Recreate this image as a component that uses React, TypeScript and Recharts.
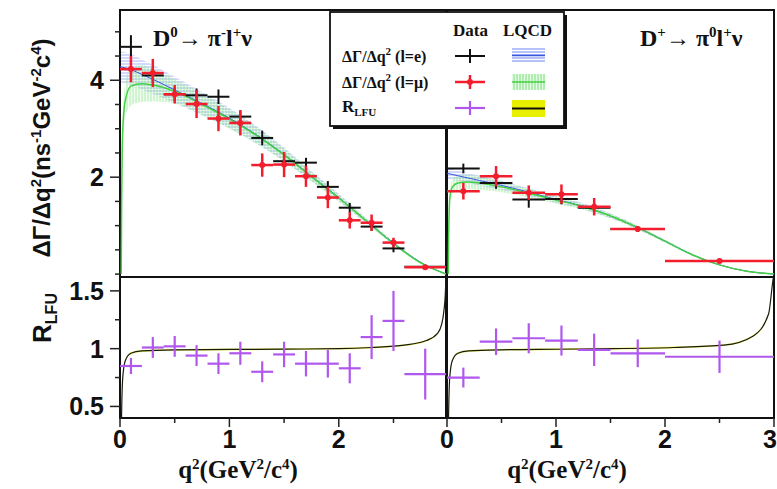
import React from 'react';
import { ComposedChart, XAxis, YAxis, Scatter, ErrorBar, Area, Line, ReferenceArea } from 'recharts';

// ---- D0 -> pi- l+ nu : measured bins ----
const d0Q = [0.1, 0.3, 0.5, 0.7, 0.9, 1.1, 1.3, 1.5, 1.7, 1.9, 2.1, 2.3, 2.5, 2.79];
const d0QHalf = [0.1, 0.1, 0.1, 0.1, 0.1, 0.1, 0.1, 0.1, 0.1, 0.1, 0.1, 0.1, 0.1, 0.19];
const d0RateE = [4.69, 4.1, 3.71, 3.69, 3.66, 3.25, 2.81, 2.33, 2.3, 1.8, 1.37, 0.98, 0.53, 0.15];
const d0RateEErr = [0.24, 0.15, 0.14, 0.14, 0.15, 0.13, 0.15, 0.1, 0.1, 0.12, 0.1, 0.09, 0.08, 0.03];
const d0RateMu = [4.23, 4.15, 3.71, 3.51, 3.21, 3.12, 2.25, 2.26, 2.02, 1.58, 1.11, 1.06, 0.65, 0.14];
const d0RateMuErr = [0.27, 0.29, 0.19, 0.29, 0.26, 0.26, 0.24, 0.26, 0.22, 0.22, 0.17, 0.17, 0.1, 0.03];
const d0R = [0.85, 1.01, 1.02, 0.94, 0.87, 0.96, 0.8, 0.95, 0.87, 0.87, 0.83, 1.1, 1.24, 0.78];
const d0RErr = [0.07, 0.09, 0.09, 0.09, 0.09, 0.1, 0.09, 0.11, 0.11, 0.12, 0.13, 0.19, 0.26, 0.22];

// ---- D+ -> pi0 l+ nu : measured bins ----
const dpQ = [0.15, 0.45, 0.75, 1.05, 1.35, 1.75, 2.5];
const dpQHalf = [0.15, 0.15, 0.15, 0.15, 0.15, 0.25, 0.5];
const dpRateE = [2.18, 1.88, 1.54, 1.55, 1.37, 0.93, 0.27];
const dpRateEErr = [0.1, 0.12, 0.17, 0.11, 0.1, 0.06, 0.03];
const dpRateMu = [1.71, 2.02, 1.68, 1.65, 1.39, 0.93, 0.27];
const dpRateMuErr = [0.17, 0.21, 0.15, 0.2, 0.18, 0.05, 0.03];
const dpR = [0.75, 1.06, 1.09, 1.07, 0.99, 0.96, 0.93];
const dpRErr = [0.086, 0.115, 0.13, 0.13, 0.14, 0.12, 0.14];

// ---- LQCD predictions ----
const d0LqE_q = [0, 0.1, 0.2, 0.3, 0.5, 0.75, 1.0, 1.25, 1.5, 1.75, 2.0, 2.25, 2.5, 2.75, 2.98];
const d0LqE = [4.28, 4.22, 4.12, 4.02, 3.8, 3.52, 3.22, 2.87, 2.47, 2.02, 1.58, 1.1, 0.64, 0.24, 0];
const d0LqE_h = [0.32, 0.32, 0.31, 0.3, 0.27, 0.24, 0.21, 0.18, 0.14, 0.1, 0.08, 0.05, 0.03, 0.02, 0];
const d0LqMu_q = [0.0112, 0.015, 0.02, 0.03, 0.05, 0.1, 0.2, 0.3, 0.5, 0.75, 1.0, 1.25, 1.5, 1.75, 2.0, 2.25, 2.5, 2.75, 2.98];
const d0LqMu = [0, 1.5, 2.5, 3.2, 3.6, 3.88, 3.93, 3.9, 3.77, 3.5, 3.2, 2.86, 2.46, 2.01, 1.57, 1.1, 0.63, 0.23, 0];
const d0LqMu_h = [0, 0.05, 0.15, 0.25, 0.35, 0.4, 0.38, 0.34, 0.25, 0.22, 0.2, 0.17, 0.13, 0.1, 0.07, 0.05, 0.03, 0.02, 0];
const d0LqR_q = [0.0112, 0.013, 0.016, 0.02, 0.03, 0.05, 0.1, 0.2, 0.5, 1.0, 1.5, 2.0, 2.3, 2.6, 2.8, 2.9, 2.94, 2.96, 2.975, 2.98];
const d0LqR = [0, 0.3, 0.5, 0.65, 0.8, 0.9, 0.96, 0.98, 0.99, 0.993, 0.996, 1.0, 1.01, 1.03, 1.07, 1.13, 1.21, 1.32, 1.5, 1.65];

const dpLqE_q = [0, 0.1, 0.2, 0.3, 0.5, 0.75, 1.0, 1.25, 1.5, 1.75, 2.0, 2.25, 2.5, 2.75, 3.0];
const dpLqE = [2.08, 2.03, 1.98, 1.93, 1.83, 1.69, 1.54, 1.4, 1.2, 0.96, 0.68, 0.4, 0.19, 0.06, 0];
const dpLqE_h = [0.12, 0.11, 0.1, 0.1, 0.09, 0.08, 0.07, 0.06, 0.05, 0.04, 0.03, 0.02, 0.01, 0.01, 0];
const dpLqMu_q = [0.0112, 0.015, 0.02, 0.03, 0.05, 0.1, 0.2, 0.3, 0.5, 0.75, 1.0, 1.25, 1.5, 1.75, 2.0, 2.25, 2.5, 2.75, 3.0];
const dpLqMu = [0, 0.8, 1.3, 1.65, 1.8, 1.88, 1.9, 1.88, 1.8, 1.67, 1.53, 1.39, 1.2, 0.96, 0.68, 0.4, 0.19, 0.06, 0];
const dpLqMu_h = [0, 0.04, 0.08, 0.12, 0.15, 0.16, 0.15, 0.14, 0.11, 0.09, 0.08, 0.06, 0.05, 0.04, 0.03, 0.02, 0.01, 0.01, 0];
const dpLqR_q = [0.0112, 0.013, 0.016, 0.02, 0.03, 0.05, 0.1, 0.2, 0.5, 1.0, 1.5, 2.08, 2.54, 2.81, 2.95, 2.99, 3.0];
const dpLqR = [0, 0.3, 0.5, 0.65, 0.8, 0.9, 0.96, 0.98, 0.99, 0.995, 1.0, 1.01, 1.03, 1.11, 1.3, 1.59, 1.65];

// ---- axes ----
const rateTicks = [0, 0.5, 1, 1.5, 2, 2.5, 3, 3.5, 4, 4.5, 5];
const rateLabels = [2, 4];
const rTicks = [0.5, 0.75, 1, 1.25, 1.5];
const rLabels = [0.5, 1, 1.5];
const qTicksLeft = [0, 0.5, 1, 1.5, 2, 2.5];
const qTicksRight = [0, 0.5, 1, 1.5, 2, 2.5, 3];
const qLabels = [0, 1, 2, 3];

const RED = '#f21d2d';
const PURPLE = '#b057ee';
const SANS = '"Liberation Sans", Arial, sans-serif';
const SERIF = '"Liberation Serif", "Times New Roman", serif';

const pts = (q: number[], qh: number[], v: number[], e: number[]) =>
  q.map((x, i) => ({ q: x, y: v[i], xe: qh[i], ye: e[i] }));
const band = (q: number[], c: number[], h: number[]) =>
  q.map((x, i) => ({ q: x, c: c[i], band: [c[i] - h[i], c[i] + h[i]] }));
const curve = (q: number[], c: number[]) =>
  q.map((x, i) => ({ q: x, c: c[i], band: [c[i] - 0.008, c[i] + 0.008] }));

// parts: plain string, or ['^', s] superscript, or ['_', s] subscript
const rich = (parts: any[], small: number, shift: number) => {
  let cur = 0;
  return parts.map((p, i) => {
    let target = 0;
    let text = p;
    let size: number | undefined;
    if (Array.isArray(p)) {
      target = p[0] === '^' ? -shift : shift;
      text = p[1];
      size = small;
    }
    const dy = target - cur;
    cur = target;
    return (
      <tspan key={i} dy={dy} fontSize={size}>
        {text}
      </tspan>
    );
  });
};

const hatchDefs = (id: string) => (
  <defs>
    <pattern id={`${id}-blue`} patternUnits="userSpaceOnUse" width={6} height={3}>
      <line x1={0} x2={6} y1={1} y2={1} stroke="#5a74ee" strokeWidth={0.9} />
    </pattern>
    <pattern id={`${id}-green`} patternUnits="userSpaceOnUse" width={3} height={6}>
      <rect width={3} height={6} fill="rgba(190,245,190,0.35)" />
      <line x1={1} x2={1} y1={0} y2={6} stroke="#6ada6a" strokeWidth={0.9} />
    </pattern>
  </defs>
);

const yTick = (labels: number[]) => (props: any) => {
  const { x, y, payload } = props;
  const major = labels.includes(payload.value);
  const len = major ? 10 : 5;
  return (
    <g>
      <line x1={x} x2={x - len} y1={y} y2={y} stroke="#222" strokeWidth={1.5} />
      {major && (
        <text x={x - len - 6} y={y} dy="0.36em" textAnchor="end" fontSize={25} fontWeight="bold" fontFamily={SANS} fill="#111">
          {String(payload.value)}
        </text>
      )}
    </g>
  );
};

const xTick = (labels: number[], last: number) => (props: any) => {
  const { x, y, payload } = props;
  const major = labels.includes(payload.value);
  const len = major ? 9 : 5;
  // the label at the very right edge of the figure is kept inside the frame
  const atEdge = payload.value === last && last === 3;
  return (
    <g>
      <line x1={x} x2={x} y1={y} y2={y + len} stroke="#222" strokeWidth={1.5} />
      {major && (
        <text
          x={atEdge ? x + 3 : x}
          y={y + 30}
          textAnchor={atEdge ? 'end' : 'middle'}
          fontSize={25}
          fontWeight="bold"
          fontFamily={SANS}
          fill="#111"
        >
          {String(payload.value)}
        </text>
      )}
    </g>
  );
};

const noMark = () => <g />;
const redDot = (p: any) => <circle cx={p.cx} cy={p.cy} r={3} fill={RED} />;

const abs: React.CSSProperties = { position: 'absolute', left: 0, top: 0 };

const RatePanel = ({ id, left, width, qMax, eCurve, muCurve, ePts, muPts, showY }: any) => (
  <div style={abs}>
    <ComposedChart width={width} height={278} margin={{ top: 10, right: width === 777 ? 3 : 1, bottom: 1, left }}>
      {hatchDefs(id)}
      <XAxis type="number" dataKey="q" domain={[0, qMax]} hide allowDataOverflow />
      <YAxis
        type="number"
        domain={[-0.06, 5.45]}
        ticks={rateTicks}
        interval={0}
        hide={!showY}
        width={120}
        tick={yTick(rateLabels)}
        tickSize={0}
        tickMargin={0}
        axisLine={false}
        tickLine={false}
        allowDataOverflow
      />
      <Area data={eCurve} dataKey="band" type="monotone" fill={`url(#${id}-blue)`} stroke="none" isAnimationActive={false} />
      <Line data={eCurve} dataKey="c" type="monotone" stroke="#3a55dd" strokeWidth={1} dot={false} isAnimationActive={false} />
      <Area data={muCurve} dataKey="band" type="monotone" fill={`url(#${id}-green)`} stroke="none" isAnimationActive={false} />
      <Line data={muCurve} dataKey="c" type="monotone" stroke="#45cf45" strokeWidth={1.5} dot={false} isAnimationActive={false} />
      <Scatter data={ePts} dataKey="y" shape={noMark} isAnimationActive={false}>
        <ErrorBar dataKey="xe" direction="x" width={0} stroke="#111" strokeWidth={2} isAnimationActive={false} />
        <ErrorBar dataKey="ye" direction="y" width={0} stroke="#111" strokeWidth={2} isAnimationActive={false} />
      </Scatter>
      <Scatter data={muPts} dataKey="y" shape={redDot} isAnimationActive={false}>
        <ErrorBar dataKey="xe" direction="x" width={0} stroke={RED} strokeWidth={2.5} isAnimationActive={false} />
        <ErrorBar dataKey="ye" direction="y" width={0} stroke={RED} strokeWidth={2.5} isAnimationActive={false} />
      </Scatter>
      <ReferenceArea x1={0} x2={qMax} y1={-0.06} y2={5.45} fill="none" stroke="#111" strokeWidth={2} ifOverflow="visible" />
    </ComposedChart>
  </div>
);

const RatioPanel = ({ left, width, qMax, qTicks, rCurve, rPts, showY }: any) => (
  <div style={abs}>
    <ComposedChart width={width} height={489} margin={{ top: 277, right: width === 777 ? 3 : 1, bottom: 0, left }}>
      <XAxis
        type="number"
        dataKey="q"
        domain={[0, qMax]}
        ticks={qTicks}
        interval={0}
        height={71}
        tick={xTick(qLabels, qTicks[qTicks.length - 1])}
        tickSize={0}
        tickMargin={0}
        axisLine={false}
        tickLine={false}
        allowDataOverflow
      />
      <YAxis
        type="number"
        domain={[0.4, 1.62]}
        ticks={rTicks}
        interval={0}
        hide={!showY}
        width={120}
        tick={yTick(rLabels)}
        tickSize={0}
        tickMargin={0}
        axisLine={false}
        tickLine={false}
        allowDataOverflow
      />
      <Area data={rCurve} dataKey="band" type="monotone" fill="#e8f000" stroke="none" isAnimationActive={false} />
      <Line data={rCurve} dataKey="c" type="monotone" stroke="#1a1a10" strokeWidth={1.2} dot={false} isAnimationActive={false} />
      <Scatter data={rPts} dataKey="y" shape={noMark} isAnimationActive={false}>
        <ErrorBar dataKey="xe" direction="x" width={0} stroke={PURPLE} strokeWidth={2.2} isAnimationActive={false} />
        <ErrorBar dataKey="ye" direction="y" width={0} stroke={PURPLE} strokeWidth={2.2} isAnimationActive={false} />
      </Scatter>
      <ReferenceArea x1={0} x2={qMax} y1={0.4} y2={1.62} fill="none" stroke="#111" strokeWidth={2} ifOverflow="visible" />
    </ComposedChart>
  </div>
);

const Overlay = () => (
  <svg width={777} height={489} style={{ ...abs, pointerEvents: 'none' }}>
    {hatchDefs('lg')}
    {/* y axis titles */}
    <text transform="translate(50,148) rotate(-90)" textAnchor="middle" fontFamily={SANS} fontWeight="bold" fontSize={24} fill="#111">
      {rich(['ΔΓ/Δq', ['^', '2'], '(ns', ['^', '-1'], 'GeV', ['^', '-2'], 'c', ['^', '4'], ')'], 15, 9)}
    </text>
    <text transform="translate(51,318) rotate(-90)" textAnchor="middle" fontFamily={SANS} fontWeight="bold" fontSize={26} fill="#111">
      {rich(['R', ['_', 'LFU']], 16, 6)}
    </text>
    {/* x axis titles */}
    {[238, 567].map((cx) => (
      <text key={cx} x={cx} y={478} textAnchor="middle" fontFamily={SERIF} fontWeight="bold" fontSize={25} fill="#111">
        {rich(['q', ['^', '2'], '(GeV', ['^', '2'], '/c', ['^', '4'], ')'], 15, 9)}
      </text>
    ))}
    {/* decay labels */}
    <text x={153} y={46} fontFamily={SERIF} fontWeight="bold" fontSize={24} fill="#111">
      {rich(['D', ['^', '0'], '→ π', ['^', '-'], 'l', ['^', '+'], 'ν'], 15, 9)}
    </text>
    <text x={640} y={46} fontFamily={SERIF} fontWeight="bold" fontSize={24} fill="#111">
      {rich(['D', ['^', '+'], '→ π', ['^', '0'], 'l', ['^', '+'], 'ν'], 15, 9)}
    </text>
    {/* legend */}
    <rect x={333} y={15} width={234} height={114} fill="#111" />
    <rect x={330} y={12} width={234} height={114} fill="#fff" stroke="#111" strokeWidth={1.8} />
    <g fontFamily={SERIF} fontWeight="bold" fill="#111">
      <text x={453} y={36} fontSize={17}>Data</text>
      <text x={503} y={36} fontSize={17}>LQCD</text>
      <text x={342} y={62} fontSize={16}>
        {rich(['ΔΓ/Δq', ['^', '2'], ' (l=e)'], 11, 7)}
      </text>
      <text x={342} y={88} fontSize={16}>
        {rich(['ΔΓ/Δq', ['^', '2'], ' (l=μ)'], 11, 7)}
      </text>
      <text x={342} y={112} fontSize={17}>
        {rich(['R', ['_', 'LFU']], 11, 4)}
      </text>
    </g>
    <line x1={455} x2={485} y1={56} y2={56} stroke="#111" strokeWidth={2} />
    <line x1={470} x2={470} y1={49} y2={63} stroke="#111" strokeWidth={2} />
    <line x1={455} x2={485} y1={82} y2={82} stroke={RED} strokeWidth={2.5} />
    <line x1={470} x2={470} y1={75} y2={89} stroke={RED} strokeWidth={2.5} />
    <circle cx={470} cy={82} r={3} fill={RED} />
    <line x1={455} x2={485} y1={108} y2={108} stroke={PURPLE} strokeWidth={2.2} />
    <line x1={470} x2={470} y1={101} y2={115} stroke={PURPLE} strokeWidth={2.2} />
    <rect x={512} y={48} width={33} height={15} fill="url(#lg-blue)" />
    <line x1={512} x2={545} y1={55.5} y2={55.5} stroke="#3a55dd" strokeWidth={1.5} />
    <rect x={512} y={74} width={33} height={16} fill="url(#lg-green)" />
    <line x1={512} x2={545} y1={82} y2={82} stroke="#45cf45" strokeWidth={1.5} />
    <rect x={512} y={100} width={33} height={17} fill="#e8f000" />
    <line x1={512} x2={545} y1={108.5} y2={108.5} stroke="#111" strokeWidth={2} />
  </svg>
);

export default function App() {
  return (
    <div style={{ ...abs, width: 777, height: 489, background: '#fff', overflow: 'hidden' }}>
      <RatePanel
        id="tl"
        left={0}
        width={447}
        qMax={2.98}
        showY
        eCurve={band(d0LqE_q, d0LqE, d0LqE_h)}
        muCurve={band(d0LqMu_q, d0LqMu, d0LqMu_h)}
        ePts={pts(d0Q, d0QHalf, d0RateE, d0RateEErr)}
        muPts={pts(d0Q, d0QHalf, d0RateMu, d0RateMuErr)}
      />
      <RatePanel
        id="tr"
        left={447}
        width={777}
        qMax={3.0}
        showY={false}
        eCurve={band(dpLqE_q, dpLqE, dpLqE_h)}
        muCurve={band(dpLqMu_q, dpLqMu, dpLqMu_h)}
        ePts={pts(dpQ, dpQHalf, dpRateE, dpRateEErr)}
        muPts={pts(dpQ, dpQHalf, dpRateMu, dpRateMuErr)}
      />
      <RatioPanel
        left={0}
        width={447}
        qMax={2.98}
        qTicks={qTicksLeft}
        showY
        rCurve={curve(d0LqR_q, d0LqR)}
        rPts={pts(d0Q, d0QHalf, d0R, d0RErr)}
      />
      <RatioPanel
        left={447}
        width={777}
        qMax={3.0}
        qTicks={qTicksRight}
        showY={false}
        rCurve={curve(dpLqR_q, dpLqR)}
        rPts={pts(dpQ, dpQHalf, dpR, dpRErr)}
      />
      <Overlay />
    </div>
  );
}
